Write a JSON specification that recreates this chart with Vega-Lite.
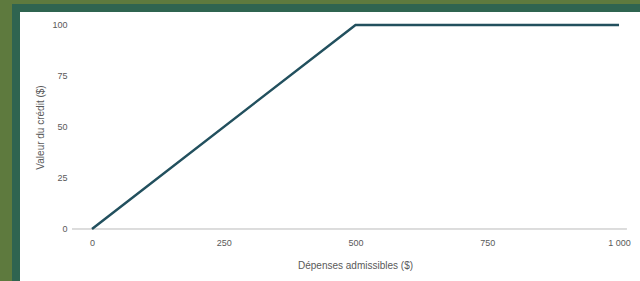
{
  "$schema": "https://vega.github.io/schema/vega-lite/v6.json",
  "width": 628,
  "height": 277,
  "autosize": {"type": "none"},
  "padding": {"left": 16, "top": 8, "right": 0, "bottom": 0},
  "background": "#5e7a3e",
  "config": {
    "view": {"fill": "#ffffff", "stroke": "#2f6450", "strokeWidth": 8},
    "font": "Liberation Sans",
    "axis": {"labelColor": "#595959", "titleColor": "#595959", "labelFont": "Liberation Sans", "titleFont": "Liberation Sans", "labelFontSize": 9, "titleFontSize": 10, "titleFontWeight": "normal", "grid": false, "ticks": false, "domain": false}
  },
  "data": {"values": [
    {"depenses": 0, "credit": 0},
    {"depenses": 500, "credit": 100},
    {"depenses": 1000, "credit": 100}
  ]},
  "layer": [
    {
      "mark": {"type": "rule", "color": "#d9d9d9", "strokeWidth": 1},
      "encoding": {
        "x": {"datum": -38, "type": "quantitative"},
        "x2": {"datum": 1015},
        "y": {"datum": 0, "type": "quantitative"}
      }
    },
    {
      "mark": {"type": "line", "color": "#22505e", "strokeWidth": 2.5},
      "encoding": {
        "x": {
          "field": "depenses", "type": "quantitative",
          "scale": {"domain": [-144.2, 1047.4], "nice": false, "zero": false},
          "axis": {
            "title": "Dépenses admissibles ($)",
            "values": [0, 250, 500, 750, 1000],
            "labelExpr": "datum.value == 1000 ? '1 000' : datum.label",
            "offset": -56,
            "labelPadding": 9,
            "titleX": 339,
            "titleY": 36,
            "titleBaseline": "middle",
            "titleAlign": "center"
          }
        },
        "y": {
          "field": "credit", "type": "quantitative",
          "scale": {"domain": [-27.45, 108.3], "nice": false, "zero": false},
          "axis": {
            "title": "Valeur du crédit ($)",
            "values": [0, 25, 50, 75, 100],
            "offset": -60,
            "labelPadding": 9,
            "titleAngle": -90,
            "titleX": -36,
            "titleY": 119,
            "titleBaseline": "middle",
            "titleAlign": "center"
          }
        }
      }
    }
  ]
}
